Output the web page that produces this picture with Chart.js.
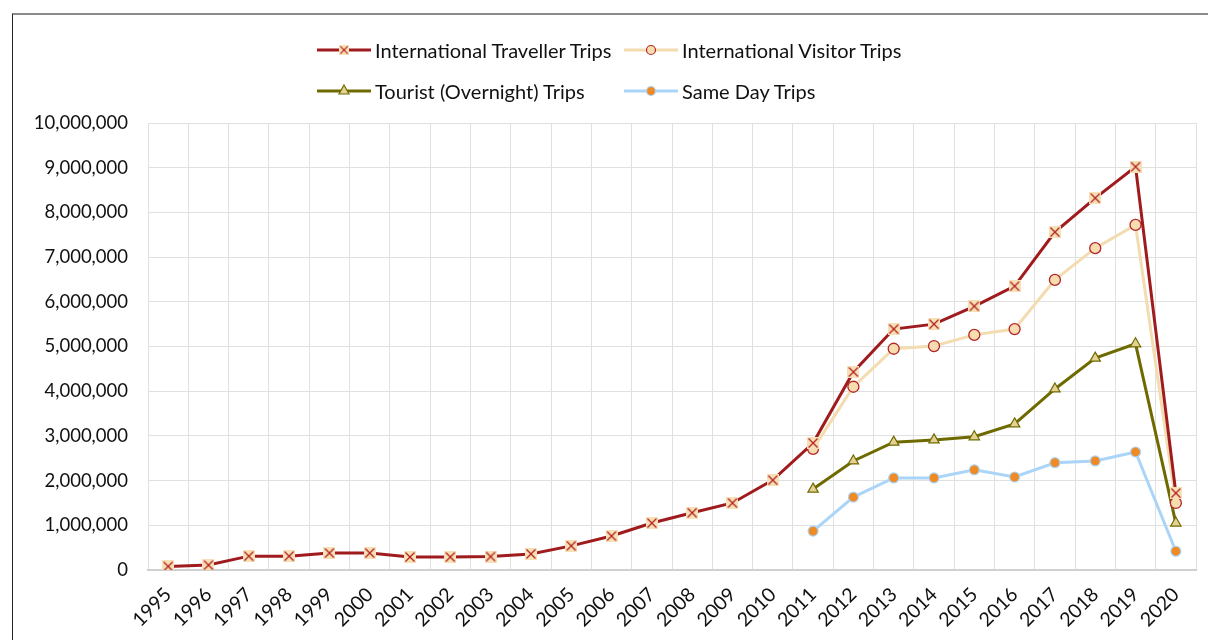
<!DOCTYPE html>
<html>
<head>
<meta charset="utf-8">
<script src="https://cdn.jsdelivr.net/npm/chart.js@4.4.1/dist/chart.umd.min.js"></script>
<style>
  html, body { margin:0; padding:0; background:#fff; width:1208px; height:640px; overflow:hidden; }
  #frame { position:absolute; left:12px; top:13px; width:1220px; height:660px; border-left:1px solid #222; border-top:2px solid #8a8a8a; }
  #c { position:absolute; left:0; top:0; }
  #legend { position:absolute; left:316px; top:36px; display:grid; grid-template-columns:307px auto; row-gap:13px;
            font-family:Lato, 'Open Sans', sans-serif; font-size:20px; color:#111; }
  .item { display:flex; align-items:center; height:28px; }
  .item canvas { margin-right:3px; }
</style>
</head>
<body>
<div id="frame"></div>
<canvas id="c" width="1208" height="640"></canvas>
<div id="legend"></div>
<script>
const years = ['1995','1996','1997','1998','1999','2000','2001','2002','2003','2004','2005','2006','2007',
               '2008','2009','2010','2011','2012','2013','2014','2015','2016','2017','2018','2019','2020'];
const yTicks = [0,1000000,2000000,3000000,4000000,5000000,6000000,7000000,8000000,9000000,10000000];

const travellerTrips = [80000,110000,310000,310000,380000,380000,290000,290000,300000,360000,540000,760000,1050000,
                        1280000,1500000,2010000,2840000,4430000,5390000,5500000,5900000,6350000,7560000,8320000,9020000,1720000];
const visitorTrips   = [null,null,null,null,null,null,null,null,null,null,null,null,null,
                        null,null,null,2710000,4100000,4950000,5010000,5260000,5390000,6490000,7200000,7720000,1500000];
const touristTrips   = [null,null,null,null,null,null,null,null,null,null,null,null,null,
                        null,null,null,1810000,2440000,2860000,2910000,2980000,3270000,4050000,4740000,5060000,1050000];
const sameDayTrips   = [null,null,null,null,null,null,null,null,null,null,null,null,null,
                        null,null,null,870000,1630000,2060000,2060000,2240000,2080000,2400000,2440000,2640000,420000];

const seriesNames = ['International Traveller Trips','International Visitor Trips','Tourist (Overnight) Trips','Same Day Trips'];

// light tan square with a red X, like the Excel marker
function crossMarker() {
  const c = document.createElement('canvas'); c.width = 12; c.height = 12;
  const g = c.getContext('2d');
  g.fillStyle = '#f8e0b6'; g.fillRect(0,0,12,12);
  g.strokeStyle = '#b3201f'; g.lineWidth = 1.3;
  g.beginPath(); g.moveTo(1.5,1.5); g.lineTo(10.5,10.5); g.moveTo(10.5,1.5); g.lineTo(1.5,10.5); g.stroke();
  return c;
}
const xMark = crossMarker();

const ds = [
  { label: seriesNames[0], data: travellerTrips, borderColor:'#a01b1d', borderWidth:3,
    pointStyle: xMark, pointRadius:6, order:1 },
  { label: seriesNames[1], data: visitorTrips, borderColor:'#f3dcb0', borderWidth:3,
    pointStyle:'circle', pointRadius:5.5, pointBackgroundColor:'#f6dcae', pointBorderColor:'#b3262a', pointBorderWidth:1.3, order:2 },
  { label: seriesNames[2], data: touristTrips, borderColor:'#6f6a00', borderWidth:3,
    pointStyle:'triangle', pointRadius:6, pointBackgroundColor:'#e4d193', pointBorderColor:'#6f6a00', pointBorderWidth:1.2, order:3 },
  { label: seriesNames[3], data: sameDayTrips, borderColor:'#aad5f8', borderWidth:3,
    pointStyle:'circle', pointRadius:5, pointBackgroundColor:'#f08a24', pointBorderColor:'#aad5f8', pointBorderWidth:1.2, order:4 },
];

new Chart(document.getElementById('c'), {
  type: 'line',
  data: { labels: years, datasets: ds.map(d => ({ ...d, fill:false, tension:0, spanGaps:false,
            backgroundColor: d.pointBackgroundColor || d.borderColor })) },
  options: {
    responsive:false, animation:false,
    layout:{ padding:{ top:123, left:12, right:12, bottom:0 } },
    plugins:{ legend:{ display:false }, tooltip:{ enabled:false } },
    scales:{
      x:{ offset:true,
          grid:{ offset:true, color:'#e0e0e0', lineWidth:1, drawTicks:false },
          border:{ color:'#d0d0d0', width:2 },
          ticks:{ color:'#111', font:{ family:'Lato', size:19.5 }, minRotation:45, maxRotation:45, padding:13, autoSkip:false },
          afterFit: s => { s.height = 70; } },
      y:{ min:0, max:10000000,
          afterBuildTicks: s => { s.ticks = yTicks.map(v => ({ value:v })); },
          grid:{ color:'#e0e0e0', lineWidth:1, drawTicks:false },
          border:{ display:false },
          ticks:{ color:'#111', font:{ family:'Lato', size:18.5 }, padding:20,
                  callback: v => v.toLocaleString('en-US') },
          afterFit: s => { s.width = 136; } },
    },
  },
});

// html legend, two columns like the excel one
const leg = document.getElementById('legend');
[0,1,2,3].forEach(i => {
  const d = ds[i];
  const it = document.createElement('div'); it.className = 'item';
  const cv = document.createElement('canvas'); cv.width = 56; cv.height = 20;
  const g = cv.getContext('2d');
  g.strokeStyle = d.borderColor; g.lineWidth = 3;
  g.beginPath(); g.moveTo(1,10); g.lineTo(55,10); g.stroke();
  if (i === 0) g.drawImage(xMark, 23, 5, 10, 10);
  else if (i === 2) {
    g.fillStyle = d.pointBackgroundColor; g.strokeStyle = d.pointBorderColor; g.lineWidth = 1.2;
    g.beginPath(); g.moveTo(28,4); g.lineTo(33,13); g.lineTo(23,13); g.closePath(); g.fill(); g.stroke();
  } else {
    g.fillStyle = d.pointBackgroundColor; g.strokeStyle = d.pointBorderColor; g.lineWidth = 1.2;
    g.beginPath(); g.arc(28,10,4.5,0,Math.PI*2); g.fill(); g.stroke();
  }
  const t = document.createElement('span'); t.textContent = d.label;
  it.appendChild(cv); it.appendChild(t); leg.appendChild(it);
});
</script>
</body>
</html>
